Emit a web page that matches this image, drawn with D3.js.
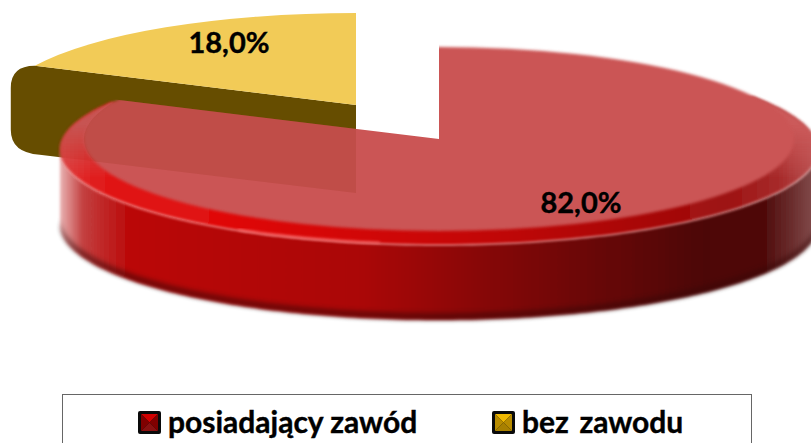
<!DOCTYPE html>
<html>
<head>
<meta charset="utf-8">
<script src="https://cdn.jsdelivr.net/npm/d3@7"></script>
<style>
html, body { margin: 0; padding: 0; background: #fff; overflow: hidden; }
text { font-family: Lato, "Open Sans", sans-serif; font-weight: 700; fill: #000; stroke: #000; stroke-width: 0.4px; }
</style>
</head>
<body>
<div id="chart"></div>
<script>
var categories = ['posiadający zawód', 'bez  zawodu'];
var shares = [82.0, 18.0];
var labels = ['82,0%', '18,0%'];

var width = 811, height = 443;
var surf = {rx: 355, ry: 92};
var rim = {rx: 379, ry: 95};

var svg = d3.select('#chart').append('svg')
    .attr('width', width).attr('height', height)
    .style('display', 'block');

var defs = svg.append('defs');

function grad(id, stops, x1, x2, y1, y2){
    var g = defs.append('linearGradient').attr('id', id)
        .attr('gradientUnits', 'userSpaceOnUse')
        .attr('x1', x1).attr('x2', x2).attr('y1', y1).attr('y2', y2);
    stops.forEach(function(s){
        g.append('stop').attr('offset', s[0]).attr('stop-color', s[1]).attr('stop-opacity', s[2] === undefined ? 1 : s[2]);
    });
}

// side wall, light on the left and going dark to the right
grad('wall', [[0, '#e8b0b0'], [0.03, '#c23a3a'], [0.09, '#b80202'], [0.4, '#a80000'], [0.6, '#7a0000'], [0.85, '#470000'], [0.93, '#4a0404'], [0.99, '#7a4040']], 60, 818, 0, 0);
grad('bevel', [[0, '#e03535'], [0.05, '#e01212'], [0.2, '#e00606'], [0.5, '#c80000'], [0.75, '#a80000'], [0.88, '#9a0a0a'], [0.95, '#a52525'], [1, '#b85050']], 60, 818, 0, 0);
// the shoulders of the bevel fade into the colour of the top
grad('shoulder', [[0, '#cb5454', 1], [1, '#cb5454', 0]], 0, 0, 125, 178);

defs.append('filter').attr('id', 'soft')
    .append('feGaussianBlur').attr('stdDeviation', 1.6);
defs.append('filter').attr('id', 'softer')
    .append('feGaussianBlur').attr('stdDeviation', 2.5);

var pie = d3.pie().sort(null).value(function(d){ return d; });
var slices = pie(shares);

// unit arc, stretched into an ellipse by the group transform
var arc = d3.arc().innerRadius(0).outerRadius(1);

function tilted(cx, cy, o){
    return 'translate(' + cx + ',' + cy + ') scale(' + o.rx + ',' + o.ry + ')';
}

// ---- yellow slice, pulled away to the back
var yc = {x: 356, y: 105}, yDepth = 88, yOut = 24;
var ya = slices[1];
var yEnd = {
    x: yc.x + surf.rx * Math.sin(ya.startAngle),
    y: yc.y - surf.ry * Math.cos(ya.startAngle)
};
var wall = d3.path();
wall.moveTo(yEnd.x, yEnd.y);
wall.quadraticCurveTo(yEnd.x - yOut, yEnd.y, yEnd.x - yOut, yEnd.y + 22);
wall.lineTo(yEnd.x - yOut, yEnd.y + yDepth - 24);
wall.quadraticCurveTo(yEnd.x - yOut, yEnd.y + yDepth - 1, yEnd.x + 5, yEnd.y + yDepth + 1);
wall.lineTo(yc.x, yc.y + yDepth);
wall.lineTo(yc.x, yc.y);
wall.closePath();
svg.append('path').attr('d', wall.toString()).attr('fill', '#664d00');

svg.append('path')
    .attr('d', arc({startAngle: ya.startAngle, endAngle: ya.endAngle}))
    .attr('transform', tilted(yc.x, yc.y, surf))
    .attr('fill', '#f2cb57');

// ---- red slice
var rc = {x: 439, y: 139}, rimC = {x: 439, y: 150}, rDepth = 75;
var ra = slices[0];

// front wall: lower half of the rim ellipse swept down
var front = d3.range(90, 270.5, 1).map(function(a){ return a * Math.PI / 180; });
var lower = function(dy){
    return front.map(function(a){
        return [rimC.x + rim.rx * Math.sin(a), rimC.y + dy - rim.ry * Math.cos(a)];
    });
};
var wallPts = lower(rDepth).concat(lower(0).reverse());
var redGroup = svg.append('g').attr('opacity', 0.97);

redGroup.append('path')
    .attr('d', d3.line()(wallPts) + 'Z')
    .attr('fill', 'url(#wall)')
    .attr('filter', 'url(#soft)');

// dark band along the bottom of the wall
var band = lower(rDepth).concat(lower(rDepth - 7).reverse());
redGroup.append('path')
    .attr('d', d3.line()(band) + 'Z')
    .attr('fill', '#300000')
    .attr('opacity', 0.55)
    .attr('filter', 'url(#softer)');

// bevel, from the right shoulder round to just past the end of the slice
var bevelPts = d3.range(56, 361, 2).map(function(a){ return a * Math.PI / 180; }).filter(function(a){
    return a <= ra.endAngle + 0.1;
});
var rimPath = d3.line()(
    [[rimC.x, rimC.y]].concat(bevelPts.map(function(a){
        return [rimC.x + rim.rx * Math.sin(a), rimC.y - rim.ry * Math.cos(a)];
    }))
) + 'Z';
redGroup.append('path').attr('d', rimPath).attr('fill', 'url(#bevel)').attr('filter', 'url(#soft)');
redGroup.append('path').attr('d', rimPath).attr('fill', 'url(#shoulder)').attr('filter', 'url(#soft)');

// thin highlight on the edge of the bevel
var glint = d3.range(189, 213, 1).map(function(a){
    a = a * Math.PI / 180;
    return [rimC.x + rim.rx * Math.sin(a), rimC.y - 1 - rim.ry * Math.cos(a)];
});
redGroup.append('path')
    .attr('d', d3.line()(glint))
    .attr('fill', 'none')
    .attr('stroke', '#ff7070')
    .attr('stroke-width', 1.5)
    .attr('filter', 'url(#soft)');

// top surface: soft round edge, hard cut along the two straight sides
defs.append('clipPath').attr('id', 'wedge')
    .append('path')
    .attr('d', arc({startAngle: ra.startAngle, endAngle: ra.endAngle}))
    .attr('transform', tilted(rc.x, rc.y, {rx: surf.rx * 1.3, ry: surf.ry * 1.3}));

svg.append('g').attr('clip-path', 'url(#wedge)')
  .append('g').attr('filter', 'url(#soft)')
  .append('path')
    .attr('d', arc({startAngle: 0, endAngle: 2 * Math.PI}))
    .attr('transform', tilted(rc.x, rc.y, surf))
    .attr('fill', '#cb5454');

// the brown wall shows faintly through the top
defs.append('clipPath').attr('id', 'topOnly')
    .append('path')
    .attr('d', arc({startAngle: ra.startAngle, endAngle: ra.endAngle}))
    .attr('transform', tilted(rc.x, rc.y, surf));

svg.append('path')
    .attr('d', wall.toString())
    .attr('clip-path', 'url(#topOnly)')
    .attr('fill', '#942c13')
    .attr('fill-opacity', 0.2);

// ---- value labels
var labelPos = [[581, 203], [229, 43]];
svg.selectAll('.value').data(labels).enter().append('text')
    .attr('class', 'value')
    .attr('x', function(d, i){ return labelPos[i][0]; })
    .attr('y', function(d, i){ return labelPos[i][1]; })
    .attr('dy', '0.35em')
    .attr('text-anchor', 'middle')
    .style('font-size', '29px')
    .text(function(d){ return d; });

// ---- legend
svg.append('rect')
    .attr('x', 62.5).attr('y', 394.5).attr('width', 689).attr('height', 60)
    .attr('fill', '#fff').attr('stroke', '#666').attr('stroke-width', 1);

// top, bottom, sides
var keyColors = [
    ['#d00000', '#8a1010', '#800000'],
    ['#f0b800', '#a88000', '#b88c00']
];
var keyX = [138, 492], keyY = 411, keyS = 23;

var keys = svg.selectAll('.key').data(categories).enter().append('g')
    .attr('class', 'key')
    .attr('transform', function(d, i){ return 'translate(' + keyX[i] + ',' + keyY + ')'; });

keys.append('rect')
    .attr('width', keyS).attr('height', keyS).attr('rx', 2)
    .attr('fill', '#0a0a0a');

keys.each(function(d, i){
    var g = d3.select(this), m = 3, s = keyS - m, c = keyS / 2;
    var tris = [
        [[m, m], [s, m], [c, c]],
        [[m, s], [s, s], [c, c]],
        [[m, m], [m, s], [c, c]],
        [[s, m], [s, s], [c, c]]
    ];
    var cols = [keyColors[i][0], keyColors[i][1], keyColors[i][2], keyColors[i][2]];
    tris.forEach(function(t, j){
        g.append('path').attr('d', d3.line()(t) + 'Z').attr('fill', cols[j]);
    });
});

keys.append('text')
    .attr('x', keyS + 7)
    .attr('y', keyS / 2)
    .attr('dy', '0.35em')
    .style('white-space', 'pre')
    .style('word-spacing', function(d, i){ return i ? '-2px' : '0'; })
    .style('font-size', '30px')
    .text(function(d){ return d; });
</script>
</body>
</html>
